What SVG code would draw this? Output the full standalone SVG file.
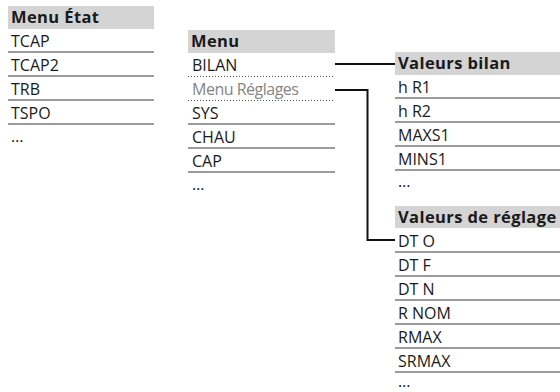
<svg xmlns="http://www.w3.org/2000/svg" width="560" height="392" viewBox="0 0 560 392">
<style>
.bg{fill:#ffffff}
.hdr{fill:#d4d4d4}
.ht{font-family:"Open Sans","DejaVu Sans",sans-serif;font-weight:bold;font-size:16.5px;fill:#1a1a1a;letter-spacing:0.4px}
.t{font-family:"Open Sans","DejaVu Sans",sans-serif;font-size:16px;fill:#1a1a1a}
.g{fill:#858585;letter-spacing:-0.5px}
.sep{stroke:#7a7a7a;stroke-width:1.5}
.dot{stroke:#555555;stroke-width:1;stroke-dasharray:1 2}
.conn{stroke:#111111;stroke-width:2;fill:none}
</style>
<rect class="bg" x="0" y="0" width="560" height="392"/>

<g id="menu-etat">
  <rect class="hdr" x="8" y="6" width="146" height="23"/>
  <text class="ht" x="11" y="23">Menu État</text>
  <text class="t" x="11" y="47">TCAP</text>
  <line class="sep" x1="8" y1="52" x2="154" y2="52"/>
  <text class="t" x="11" y="71">TCAP2</text>
  <line class="sep" x1="8" y1="76" x2="154" y2="76"/>
  <text class="t" x="11" y="95">TRB</text>
  <line class="sep" x1="8" y1="100" x2="154" y2="100"/>
  <text class="t" x="11" y="119">TSPO</text>
  <line class="sep" x1="8" y1="124" x2="154" y2="124"/>
  <text class="t" x="11" y="142">…</text>
</g>

<g id="menu">
  <rect class="hdr" x="188" y="30" width="147" height="23"/>
  <text class="ht" x="191" y="47">Menu</text>
  <text class="t" x="192" y="71">BILAN</text>
  <line class="dot" x1="188" y1="76.5" x2="335" y2="76.5"/>
  <text class="t g" x="192" y="95">Menu Réglages</text>
  <line class="dot" x1="188" y1="100.5" x2="335" y2="100.5"/>
  <text class="t" x="192" y="119">SYS</text>
  <line class="sep" x1="188" y1="124" x2="335" y2="124"/>
  <text class="t" x="192" y="143">CHAU</text>
  <line class="sep" x1="188" y1="148" x2="335" y2="148"/>
  <text class="t" x="192" y="167">CAP</text>
  <line class="sep" x1="188" y1="172" x2="335" y2="172"/>
  <text class="t" x="192" y="190">…</text>
</g>

<g id="valeurs-bilan">
  <rect class="hdr" x="395" y="52" width="165" height="23"/>
  <text class="ht" x="398" y="69">Valeurs bilan</text>
  <text class="t" x="398" y="93">h R1</text>
  <line class="sep" x1="395" y1="98" x2="560" y2="98"/>
  <text class="t" x="398" y="117">h R2</text>
  <line class="sep" x1="395" y1="122" x2="560" y2="122"/>
  <text class="t" x="398" y="141">MAXS1</text>
  <line class="sep" x1="395" y1="146" x2="560" y2="146"/>
  <text class="t" x="398" y="165">MINS1</text>
  <line class="sep" x1="395" y1="170" x2="560" y2="170"/>
  <text class="t" x="398" y="187">…</text>
</g>

<g id="valeurs-reglage">
  <rect class="hdr" x="395" y="206" width="165" height="22"/>
  <text class="ht" x="398" y="223">Valeurs de réglage</text>
  <text class="t" x="398" y="247">DT O</text>
  <line class="sep" x1="395" y1="252" x2="560" y2="252"/>
  <text class="t" x="398" y="271">DT F</text>
  <line class="sep" x1="395" y1="276" x2="560" y2="276"/>
  <text class="t" x="398" y="295">DT N</text>
  <line class="sep" x1="395" y1="300" x2="560" y2="300"/>
  <text class="t" x="398" y="319">R NOM</text>
  <line class="sep" x1="395" y1="324" x2="560" y2="324"/>
  <text class="t" x="398" y="343">RMAX</text>
  <line class="sep" x1="395" y1="348" x2="560" y2="348"/>
  <text class="t" x="398" y="367">SRMAX</text>
  <line class="sep" x1="395" y1="372" x2="560" y2="372"/>
  <text class="t" x="398" y="387">…</text>
</g>

<g id="connectors">
  <path class="conn" d="M335,64 H395"/>
  <path class="conn" d="M335,90 H367.5 V240 H395"/>
</g>
</svg>
